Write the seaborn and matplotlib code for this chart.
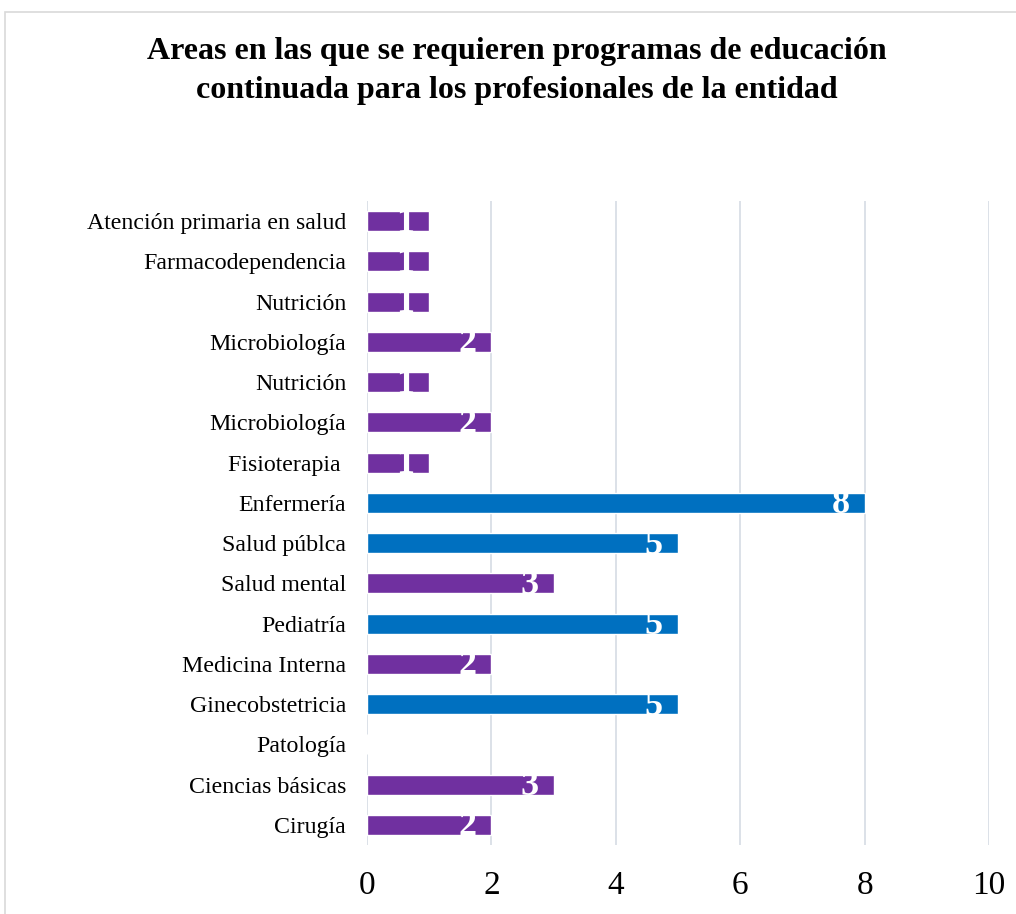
import matplotlib
matplotlib.use("Agg")
import matplotlib.pyplot as plt
import matplotlib.transforms as mtransforms
from matplotlib.patches import Rectangle
import seaborn as sns
import pandas as pd

categorias = [
    "Atención primaria en salud", "Farmacodependencia", "Nutrición", "Microbiología",
    "Nutrición", "Microbiología", "Fisioterapia ", "Enfermería", "Salud públca",
    "Salud mental", "Pediatría", "Medicina Interna", "Ginecobstetricia", "Patología",
    "Ciencias básicas", "Cirugía",
]
valores = [1, 1, 1, 2, 1, 2, 1, 8, 5, 3, 5, 2, 5, 0, 3, 2]
xticks = [0, 2, 4, 6, 8, 10]
titulo = "Areas en las que se requieren programas de educación\ncontinuada para los profesionales de la entidad"

sns.set_theme(style="white")
plt.rcParams["font.family"] = ["Liberation Serif", "DejaVu Serif"]
plt.rcParams["text.color"] = "black"
plt.rcParams["xtick.color"] = "black"
plt.rcParams["ytick.color"] = "black"

df = pd.DataFrame({
    "pos": list(range(len(categorias))),
    "valor": valores,
    "grupo": ["alto" if v >= 5 else "bajo" for v in valores],
})

fig = plt.figure(figsize=(10.16, 9.14), dpi=100)
ax = fig.add_axes([367 / 1016, 1 - 845 / 914, (989 - 367) / 1016, (845 - 201) / 914])

sns.barplot(data=df, x="valor", y="pos", hue="grupo", orient="h",
            palette={"alto": "#0070C0", "bajo": "#7030A0"}, width=0.5,
            legend=False, ax=ax, saturation=1, dodge=False)

ax.set_xlim(0, 10)
ax.set_xticks(xticks)
ax.set_xticklabels([str(t) for t in xticks], fontsize=24)
ax.set_yticks(range(len(categorias)))
ax.set_yticklabels(categorias, fontsize=17.2)
ax.set_xlabel("")
ax.set_ylabel("")
ax.tick_params(axis="x", length=0, pad=18)
ax.tick_params(axis="y", length=0, pad=15)
for s in ax.spines.values():
    s.set_visible(False)
ax.xaxis.grid(True, color="#D9DEE6", linewidth=1.3)
ax.set_axisbelow(True)

off = mtransforms.offset_copy(ax.transData, fig=fig, x=-15, y=-2, units="dots")
for i, v in enumerate(valores):
    if v > 0:
        ax.text(v, i, str(v), ha="right", va="center", color="white",
                fontsize=26, fontweight="bold", transform=off)

fig.text(517 / 1016, 1 - 71 / 914, titulo, ha="center", va="center",
         fontsize=23, fontweight="bold", linespacing=1.45)

fig.patches.append(Rectangle((5 / 1016, -0.05), 1.2, 1 - 12 / 914 + 0.05,
                             transform=fig.transFigure, fill=False,
                             edgecolor="#D9D9D9", linewidth=1.2))

fig.savefig("out.png", dpi=100)
